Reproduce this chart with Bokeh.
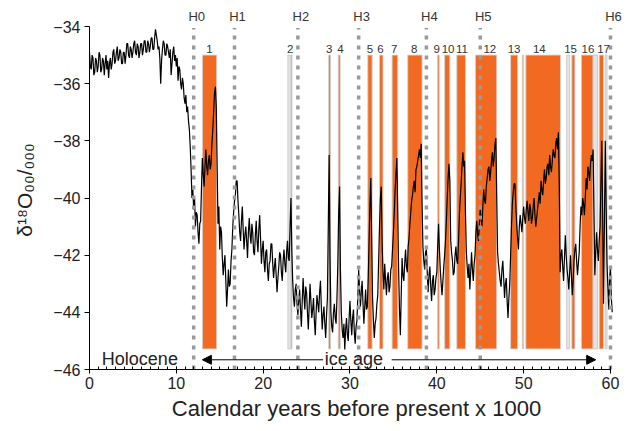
from bokeh.plotting import figure
from bokeh.embed import file_html
from bokeh.resources import INLINE
from bokeh.models import ColumnDataSource, FixedTicker, Label, Arrow, NormalHead
from bokeh.core.properties import value

FONT = "Liberation Sans"

# ice core d18O record (per mil), one value per 100 yr from 0 ka BP
d18o = [
    -34.9, -35.4, -35.5, -35.0, -35.1, -35.7, -35.6, -35.1, -35.2, -35.6,  # 0 ka
    -35.4, -34.9, -35.0, -35.6, -35.5, -35.1, -35.2, -35.7, -35.3, -35.0,
    -35.5, -35.2, -35.8, -35.3, -35.1, -35.5, -35.3, -34.9, -34.8, -35.3,
    -35.2, -34.9, -34.7, -35.2, -35.1, -34.8, -34.9, -35.3, -35.3, -34.9,
    -34.9, -35.3, -35.0, -34.6, -34.6, -35.0, -35.1, -34.7, -34.8, -35.1,
    -34.9, -34.6, -34.5, -34.9, -35.0, -34.6, -34.7, -35.1, -34.9, -34.6,  # 5 ka
    -34.6, -35.0, -34.8, -34.5, -34.5, -34.9, -34.9, -34.5, -34.6, -34.9,
    -34.7, -34.4, -34.4, -34.8, -34.8, -34.4, -34.1, -34.3, -34.5, -34.8,
    -34.7, -35.1, -36.0, -35.2, -34.8, -34.5, -34.6, -35.0, -35.0, -34.6,
    -34.7, -34.9, -35.1, -34.8, -35.7, -35.3, -34.9, -34.7, -35.2, -35.0,
    -35.4, -35.1, -35.9, -35.4, -35.5, -36.0, -36.2, -35.8, -36.0, -36.5,  # 10 ka
    -36.7, -36.4, -37.0, -36.8, -37.3, -37.6, -38.2, -39.0, -40.0, -39.7,
    -40.4, -40.0, -41.0, -40.5, -40.6, -41.2, -41.6, -40.9, -40.8, -39.6,
    -38.6, -39.2, -39.6, -38.9, -38.3, -38.9, -39.2, -38.7, -38.5, -39.0,
    -38.8, -38.1, -37.6, -37.0, -36.3, -36.1, -36.8, -38.9, -40.9, -40.3,
    -41.8, -41.0, -41.2, -42.1, -42.7, -42.3, -42.0, -42.9, -43.8, -43.2,  # 15 ka
    -42.5, -43.1, -43.0, -42.2, -41.8, -41.0, -40.5, -40.1, -39.9, -39.4,
    -39.4, -40.1, -40.6, -41.2, -41.5, -40.8, -40.3, -41.1, -41.8, -41.3,
    -41.0, -41.5, -42.1, -41.2, -40.7, -41.3, -41.6, -40.9, -41.2, -41.9,
    -42.0, -41.3, -40.8, -41.5, -41.9, -41.1, -40.6, -41.4, -42.3, -41.8,
    -41.5, -42.2, -42.6, -41.9, -41.8, -42.5, -42.9, -42.3, -42.2, -41.6,  # 20 ka
    -41.6, -42.3, -42.8, -42.4, -42.1, -42.7, -43.3, -42.8, -42.4, -41.9,
    -42.0, -42.6, -42.9, -42.2, -41.8, -42.3, -42.6, -41.9, -41.5, -42.1,
    -42.2, -41.0, -40.0, -41.8, -42.9, -43.5, -43.8, -43.2, -43.0, -43.7,
    -44.1, -43.6, -43.2, -43.9, -44.5, -43.6, -42.8, -43.4, -43.9, -43.1,
    -43.3, -44.0, -44.6, -43.8, -43.0, -43.6, -44.2, -43.9, -43.5, -44.3,  # 25 ka
    -44.8, -44.0, -43.4, -43.7, -44.0, -43.3, -42.9, -43.8, -44.6, -44.1,
    -43.8, -44.4, -44.9, -44.1, -43.5, -41.0, -38.5, -42.0, -44.0, -44.5,
    -44.7, -44.0, -43.7, -44.2, -44.4, -43.5, -42.3, -40.5, -39.6, -42.5,
    -44.0, -44.6, -44.9, -44.4, -45.3, -44.6, -44.2, -44.8, -45.0, -44.2,
    -43.6, -44.3, -44.8, -44.2, -43.9, -44.7, -45.1, -44.5, -44.3, -43.5,  # 30 ka
    -42.5, -43.2, -43.8, -43.3, -42.9, -43.7, -44.4, -43.8, -43.2, -43.9,
    -43.8, -42.8, -41.5, -40.2, -39.3, -41.5, -43.5, -44.3, -44.9, -44.4,
    -44.2, -43.7, -43.4, -42.2, -41.0, -40.0, -39.6, -41.5, -42.6, -43.2,
    -42.3, -42.9, -43.4, -42.8, -42.6, -43.3, -43.1, -42.5, -42.4, -41.8,
    -41.2, -40.5, -39.7, -39.1, -38.6, -40.5, -42.5, -43.9, -44.8, -43.4,  # 35 ka
    -42.1, -42.7, -42.9, -42.3, -41.8, -42.4, -42.6, -41.7, -41.4, -40.9,
    -40.5, -40.1, -39.9, -39.6, -39.4, -39.8, -39.0, -38.9, -38.7, -38.5,
    -38.3, -38.6, -38.1, -40.2, -41.7, -42.2, -42.5, -41.9, -41.8, -42.6,
    -43.3, -42.7, -42.4, -43.1, -43.6, -42.9, -42.7, -43.4, -43.2, -42.8,
    -42.6, -41.7, -40.9, -41.8, -42.5, -43.0, -43.4, -42.9, -42.4, -42.0,  # 40 ka
    -41.5, -40.8, -40.0, -39.3, -38.8, -39.4, -41.5, -41.9, -42.2, -42.7,
    -42.6, -42.0, -41.7, -42.2, -42.3, -41.5, -40.6, -40.0, -39.5, -38.9,
    -38.4, -38.9, -38.7, -40.5, -41.9, -42.4, -42.8, -42.3, -43.2, -42.6,
    -41.9, -42.5, -42.9, -42.3, -42.0, -41.2, -40.8, -41.3, -41.5, -40.9,
    -40.4, -40.7, -41.0, -40.3, -39.7, -40.1, -40.2, -39.6, -39.3, -39.0,  # 45 ka
    -38.9, -39.4, -39.1, -38.7, -38.4, -38.9, -38.6, -38.1, -37.9, -40.0,
    -41.9, -42.3, -42.6, -42.9, -43.1, -42.5, -42.2, -42.8, -43.5, -43.0,
    -42.8, -43.6, -44.2, -43.5, -43.0, -42.0, -41.0, -40.2, -39.8, -39.5,
    -39.5, -40.3, -40.9, -41.4, -41.8, -41.0, -40.6, -40.9, -41.2, -40.7,
    -40.3, -40.7, -40.9, -40.4, -40.1, -40.5, -40.8, -40.2, -40.4, -40.9,  # 50 ka
    -40.7, -40.3, -40.0, -40.6, -41.0, -40.7, -40.4, -40.1, -39.8, -40.2,
    -39.4, -39.7, -39.9, -39.4, -39.0, -39.5, -39.3, -38.9, -38.8, -39.2,
    -38.5, -38.9, -39.1, -38.7, -38.3, -38.5, -38.6, -38.1, -37.9, -38.3,
    -37.7, -39.5, -42.6, -42.0, -41.8, -42.4, -42.9, -42.1, -41.3, -42.0,
    -42.5, -42.8, -43.2, -42.6, -42.0, -42.7, -43.4, -42.9, -42.2, -41.8,  # 55 ka
    -41.6, -42.2, -42.7, -42.3, -41.9, -41.0, -40.3, -40.6, -40.0, -40.2,
    -40.6, -40.0, -39.3, -39.7, -38.9, -39.1, -39.4, -38.8, -38.5, -38.7,
    -38.3, -40.5, -42.7, -41.9, -41.2, -41.8, -42.2, -41.5, -41.0, -39.5,
    -38.0, -40.5, -43.7, -41.0, -38.0, -40.2, -42.3, -43.1, -43.9, -42.8,
    -42.4, -43.5, -44.0,                                                   # 60 ka
]
age = [i / 10 for i in range(len(d18o))]  # ka BP

# numbered interstadials (orange bands), ka BP
is_start = [13.0, 23.2, 27.55, 28.65, 32.05, 33.4, 34.85, 36.65, 40.08, 40.9,
            42.3, 44.45, 48.5, 49.85, 50.25, 55.55, 56.65, 58.7]
is_end = [14.65, 23.32, 27.77, 28.87, 32.55, 33.8, 35.5, 38.3, 40.27, 41.5,
          43.3, 46.9, 49.3, 50.0, 54.25, 55.9, 58.0, 59.2]

# grey bands
grey_start = [22.85, 54.95, 58.0, 59.4]
grey_end = [23.2, 55.3, 58.5, 59.6]

is_names = [str(i) for i in range(1, 18)]
is_name_x = [13.8, 23.1, 27.6, 28.9, 32.3, 33.5, 35.1, 37.4, 40.0, 41.3,
             42.9, 46.1, 48.9, 51.8, 55.4, 57.4, 59.2]

# Heinrich events
h_names = ["H0", "H1", "H2", "H3", "H4", "H5", "H6"]
h_age = [12.0, 16.7, 24.0, 31.0, 38.8, 45.0, 60.0]

x_ticks = [0, 10, 20, 30, 40, 50, 60]
y_ticks = [-46, -44, -42, -40, -38, -36, -34]

p = figure(width=625, height=423, x_range=(0, 61.5), y_range=(-46, -33.44),
           output_backend="svg", toolbar_location=None,
           min_border_left=89, min_border_right=2, min_border_top=10,
           min_border_bottom=54)
p.outline_line_color = None
p.xgrid.grid_line_color = None
p.ygrid.grid_line_color = None

ORANGE = "#F26A21"
bars = ColumnDataSource(dict(left=is_start, right=is_end))
p.quad(left="left", right="right", top=-35, bottom=-45.28, source=bars,
       fill_color=ORANGE, line_color="#d2d2d2", line_width=0.9)
greys = ColumnDataSource(dict(left=grey_start, right=grey_end))
p.quad(left="left", right="right", top=-35, bottom=-45.28, source=greys,
       fill_color="#e4e4e4", line_color="#c8c8c8", line_width=0.9)

p.line(age, d18o, line_color="black", line_width=1.2)

hs = ColumnDataSource(dict(x=h_age, name=h_names))
p.segment(x0="x", y0=-46, x1="x", y1=-34.05, source=hs, line_color="#9a9a9a",
          line_width=3.5, line_dash="4 6")
p.text(x="x", y=-33.65, text="name", source=hs, text_align="center",
       text_baseline="middle", x_offset=3, text_font=value(FONT),
       text_font_size="13px", text_color="#333333")

nums = ColumnDataSource(dict(x=is_name_x, name=is_names))
p.text(x="x", y=-34.77, text="name", source=nums, text_align="center",
       text_baseline="middle", text_font=value(FONT),
       text_font_size="11.5px", text_color="#333333")

p.add_layout(Label(x=5.8, y=-45.63, text="Holocene", text_align="center",
                   text_baseline="middle", text_font=FONT,
                   text_font_size="18px", text_color="#222222"))
p.add_layout(Label(x=30.45, y=-45.63, text="ice age", text_align="center",
                   text_baseline="middle", text_font=FONT,
                   text_font_size="18px", text_color="#222222"))
p.add_layout(Arrow(end=NormalHead(size=9, fill_color="black", line_color="black"),
                   x_start=26.9, y_start=-45.66, x_end=13.0, y_end=-45.66,
                   line_width=1))
p.add_layout(Arrow(end=NormalHead(size=9, fill_color="black", line_color="black"),
                   x_start=34.8, y_start=-45.66, x_end=58.3, y_end=-45.66,
                   line_width=1))

# axes
xa = p.xaxis[0]
xa.ticker = FixedTicker(ticks=x_ticks, minor_ticks=list(range(0, 61)))
xa.bounds = (0, 60)
xa.axis_label = "Calendar years before present x 1000"
xa.axis_label_text_font_size = "22px"
xa.axis_label_standoff = 4
xa.major_label_text_font_size = "16px"
xa.major_label_standoff = 3
xa.major_tick_in = 3
xa.major_tick_out = 4
xa.minor_tick_in = 3
xa.minor_tick_out = 0

ya = p.yaxis[0]
ya.ticker = FixedTicker(ticks=y_ticks)
ya.bounds = (-46, -34)
ya.axis_label = "δ¹⁸O₀₀/₀₀₀"
ya.axis_label_text_font_size = "21px"
ya.axis_label_standoff = 14
ya.major_label_text_font_size = "16px"
ya.major_label_standoff = 4
ya.major_tick_in = 0
ya.major_tick_out = 5
ya.minor_tick_line_color = None

for ax in (xa, ya):
    ax.axis_label_text_font = FONT
    ax.axis_label_text_font_style = "normal"
    ax.major_label_text_font = FONT
    ax.axis_line_color = "black"
    ax.major_tick_line_color = "black"
    ax.major_label_text_color = "#222222"
    ax.axis_label_text_color = "#222222"

open("out.html", "w").write(file_html(p, INLINE))
